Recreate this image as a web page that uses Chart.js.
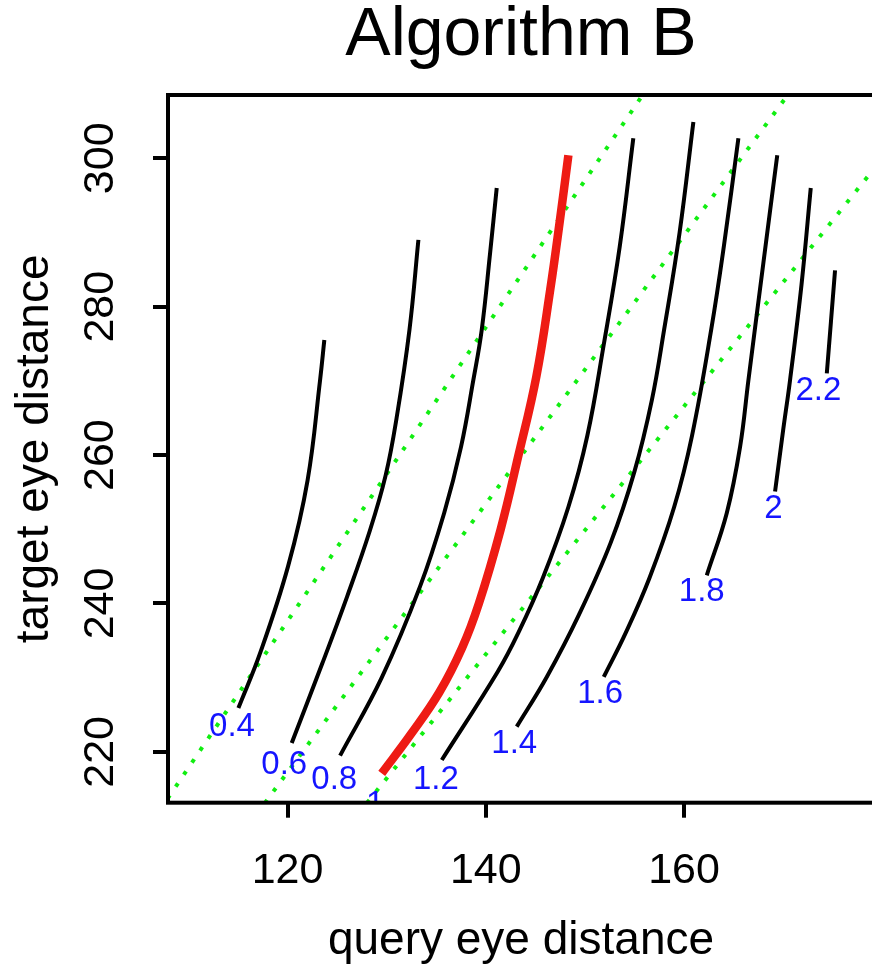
<!DOCTYPE html>
<html>
<head>
<meta charset="utf-8">
<title>Algorithm B</title>
<script src="https://cdn.jsdelivr.net/npm/chart.js@4.4.1/dist/chart.umd.min.js"></script>
<style>
  html, body { margin: 0; padding: 0; background: #fff; overflow: hidden; }
  canvas { display: block; }
</style>
</head>
<body>
<canvas id="grafica" width="880" height="965"></canvas>
<script>
// limites de los ejes y marcas
var xMin = 107.94, xMax = 179.16;
var yMin = 213.15, yMax = 308.53;
var xTicks = [120, 140, 160];
var yTicks = [220, 240, 260, 280, 300];

// curvas de nivel (query eye distance, target eye distance)
var c04X = [115.04, 117.23, 120.05, 122.02, 123.28, 123.71];
var c04Y = [225.9, 233.3, 245.0, 256.6, 270.1, 275.5];
var c06X = [120.42, 123.5, 126.0, 128.3, 129.9, 131.0, 132.3, 133.2];
var c06Y = [221.2, 231.9, 240.9, 249.8, 257.3, 265.0, 276.9, 289.0];
var c08X = [125.3, 129.5, 133.37, 135.8, 137.5, 138.74, 139.59, 140.43, 141.10];
var c08Y = [219.5, 230.0, 242.3, 252.2, 261.1, 270.1, 276.9, 287.2, 296.0];
var c10X = [129.5, 132.4, 135.3, 137.6, 139.3, 141.5, 143.3, 145.1, 146.5, 147.45, 148.33];
var c10Y = [217.1, 222.3, 228.0, 234.0, 240.0, 250.0, 260.0, 270.6, 282.3, 291.4, 300.4];
var c12X = [135.56, 141.2, 143.3, 145.74, 148.33, 150.24, 151.9, 153.5, 154.88];
var c12Y = [218.9, 230.8, 236.1, 243.4, 253.0, 262.6, 274.9, 288.0, 302.7];
var c14X = [143.12, 146.15, 149.4, 152.6, 155.0, 156.75, 158.0, 159.55, 160.94];
var c14Y = [223.4, 230.1, 238.5, 248.2, 257.8, 267.4, 277.0, 290.0, 304.9];
var c16X = [151.9, 154.1, 156.5, 159.0, 160.8, 162.75, 164.0, 165.48];
var c16Y = [230.1, 236.0, 243.4, 253.0, 262.6, 277.0, 288.0, 302.7];
var c18X = [162.29, 164.31, 165.65, 166.49, 168.0, 169.4];
var c18Y = [243.8, 252.2, 261.1, 270.1, 285.9, 300.4];
var c20X = [169.18, 170.0, 170.69, 171.85, 172.78];
var c20Y = [255.1, 263.4, 270.1, 283.0, 296.0];
var c22X = [174.40, 175.23];
var c22Y = [271.0, 284.9];

// etiquetas de cada curva
var niveles = ['0.4', '0.6', '0.8', '1', '1.2', '1.4', '1.6', '1.8', '2', '2.2'];
var etiquetaX = [114.40, 119.67, 124.71, 128.83, 134.96, 142.87, 151.53, 161.78, 169.01, 173.55];
var etiquetaY = [223.4, 218.2, 216.2, 212.9, 216.2, 221.1, 227.8, 241.6, 252.8, 268.6];

// rectas punteadas verdes
var r1X = [107.90, 155.80], r1Y = [213.7, 308.5];
var r2X = [117.70, 170.50], r2Y = [213.1, 308.6];
var r3X = [128.00, 180.00], r3Y = [213.1, 300.0];

var fuente = '"Liberation Sans", Arial, Helvetica, sans-serif';
Chart.defaults.font.family = fuente;

function puntos(xs, ys) {
  return xs.map(function(x, i) { return { x: x, y: ys[i] }; });
}

function curva(xs, ys, color, ancho) {
  return {
    data: puntos(xs, ys),
    showLine: true,
    borderColor: color,
    borderWidth: ancho,
    borderCapStyle: 'butt',
    pointRadius: 0,
    tension: 0.4,
    clip: 0
  };
}

function recta(xs, ys) {
  return {
    data: puntos(xs, ys),
    showLine: true,
    borderColor: '#11ee11',
    borderWidth: 4,
    borderDash: [4, 10.5],
    borderCapStyle: 'butt',
    pointRadius: 0,
    clip: 0
  };
}

var etiquetas = {
  id: 'etiquetas',
  afterDatasetsDraw: function(chart) {
    var ctx = chart.ctx, a = chart.chartArea;
    var sx = chart.scales.x, sy = chart.scales.y;
    ctx.save();
    ctx.beginPath();
    ctx.rect(a.left, a.top, a.right - a.left, a.bottom - a.top);
    ctx.clip();
    ctx.fillStyle = '#1515ff';
    ctx.font = '33px ' + fuente;
    ctx.textAlign = 'center';
    ctx.textBaseline = 'middle';
    niveles.forEach(function(t, i) {
      ctx.fillText(t, sx.getPixelForValue(etiquetaX[i]), sy.getPixelForValue(etiquetaY[i]));
    });
    ctx.restore();

    // marco del grafico
    ctx.save();
    ctx.strokeStyle = '#000';
    ctx.lineWidth = 4;
    ctx.strokeRect(a.left, a.top, a.right - a.left, a.bottom - a.top);

    // numeros del eje y, girados
    ctx.fillStyle = '#000';
    ctx.font = '43px ' + fuente;
    ctx.textAlign = 'center';
    ctx.textBaseline = 'middle';
    yTicks.forEach(function(v) {
      ctx.save();
      ctx.translate(a.left - 67, sy.getPixelForValue(v));
      ctx.rotate(-Math.PI / 2);
      ctx.fillText(String(v), 0, 0);
      ctx.restore();
    });
    ctx.restore();
  }
};

var marcas = { drawOnChartArea: false, drawTicks: true, tickLength: 15, lineWidth: 4, color: '#000' };

var myChart = new Chart(document.getElementById('grafica'), {
  type: 'scatter',
  data: {
    datasets: [
      curva(c04X, c04Y, '#000', 4),
      curva(c06X, c06Y, '#000', 4),
      curva(c08X, c08Y, '#000', 4),
      curva(c10X, c10Y, '#ee1b14', 8.5),
      curva(c12X, c12Y, '#000', 4),
      curva(c14X, c14Y, '#000', 4),
      curva(c16X, c16Y, '#000', 4),
      curva(c18X, c18Y, '#000', 4),
      curva(c20X, c20Y, '#000', 4),
      curva(c22X, c22Y, '#000', 4),
      recta(r1X, r1Y),
      recta(r2X, r2Y),
      recta(r3X, r3Y)
    ]
  },
  options: {
    responsive: false,
    animation: false,
    layout: { padding: { left: 0, right: 6, top: 0, bottom: 0 } },
    plugins: {
      legend: { display: false },
      tooltip: { enabled: false },
      title: {
        display: true,
        text: 'Algorithm B',
        fullSize: false,
        color: '#000',
        font: { size: 68, weight: 'normal', lineHeight: 1 },
        padding: { top: 2.5, bottom: 24.5 }
      }
    },
    scales: {
      x: {
        type: 'linear',
        min: xMin,
        max: xMax,
        afterBuildTicks: function(s) { s.ticks = xTicks.map(function(v) { return { value: v }; }); },
        afterFit: function(s) { s.height = 162.3; },
        grid: marcas,
        border: { display: false },
        ticks: { color: '#000', font: { size: 43 }, padding: 28, maxRotation: 0, autoSkip: false },
        title: {
          display: true,
          text: 'query eye distance',
          color: '#000',
          font: { size: 46, lineHeight: 1 },
          padding: { top: 0, bottom: 1 }
        }
      },
      y: {
        type: 'linear',
        min: yMin,
        max: yMax,
        afterBuildTicks: function(s) { s.ticks = yTicks.map(function(v) { return { value: v }; }); },
        afterFit: function(s) { s.width = 168; },
        grid: marcas,
        border: { display: false },
        ticks: { display: false },
        title: {
          display: true,
          text: 'target eye distance',
          color: '#000',
          font: { size: 46, lineHeight: 1 },
          padding: { top: 12, bottom: 0 }
        }
      }
    }
  },
  plugins: [etiquetas]
});
</script>
</body>
</html>
